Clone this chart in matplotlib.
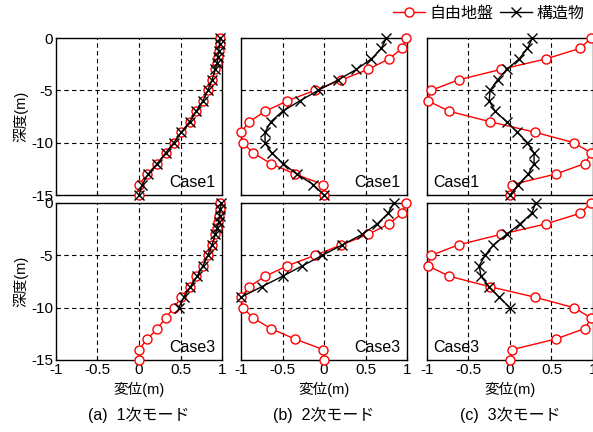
import numpy as np
import matplotlib
matplotlib.use("Agg")
import matplotlib.pyplot as plt
from matplotlib.lines import Line2D

plt.rcParams['font.family'] = ['Liberation Sans', 'Noto Sans CJK JP']
plt.rcParams['axes.unicode_minus'] = False

# depth (m)
depth = [0, -1, -2, -3, -4, -5, -6, -7, -8, -9, -10, -11, -12, -13, -14, -15]
depth_m1 = [0, -0.6, -1.2, -1.8, -2.4, -3, -4, -5, -6, -7, -8, -9, -10, -11, -12, -13, -14, -15]

# 1st mode
m1_free = [0.98, 0.97, 0.96, 0.95, 0.94, 0.92, 0.88, 0.83, 0.77, 0.69, 0.61, 0.51, 0.42, 0.32, 0.22, 0.10, 0.0, 0.0]
m1_str_c1 = [0.98, 0.97, 0.96, 0.95, 0.94, 0.92, 0.88, 0.83, 0.77, 0.69, 0.61, 0.51, 0.42, 0.32, 0.22, 0.11, 0.04, 0.0]
m1_str_c3 = [0.99, 0.98, 0.97, 0.96, 0.94, 0.92, 0.88, 0.83, 0.77, 0.70, 0.62, 0.54, 0.48]

# 2nd mode
m2_free = [0.99, 0.94, 0.78, 0.53, 0.21, -0.11, -0.44, -0.71, -0.90, -1.0, -0.98, -0.85, -0.64, -0.35, -0.01, 0.0]
m2_str_c1 = [0.75, 0.69, 0.57, 0.39, 0.17, -0.07, -0.29, -0.50, -0.64, -0.71, -0.71, -0.63, -0.49, -0.33, -0.13, 0.0]
m2_str_c3 = [0.84, 0.77, 0.64, 0.46, 0.22, -0.02, -0.26, -0.50, -0.75, -1.0]

# 3rd mode
m3_free = [0.98, 0.84, 0.43, -0.11, -0.62, -0.95, -0.99, -0.73, -0.24, 0.30, 0.77, 0.98, 0.90, 0.55, 0.03, 0.0]
m3_str_c1 = [0.27, 0.21, 0.11, -0.04, -0.15, -0.24, -0.25, -0.18, -0.04, 0.09, 0.21, 0.29, 0.29, 0.22, 0.10, 0.0]
m3_str_c3 = [0.31, 0.26, 0.12, -0.04, -0.20, -0.30, -0.37, -0.35, -0.25, -0.13, 0.0]

xticks = [-1, -0.5, 0, 0.5, 1]
xticklabels = ['-1', '-0.5', '0', '0.5', '1']
yticks = [0, -5, -10, -15]
yticklabels = ['0', '-5', '-10', '-15']
captions = ['(a)  1次モード', '(b)  2次モード', '(c)  3次モード']

panels = [
    [(depth_m1, m1_free, depth_m1, m1_str_c1, 'Case1'),
     (depth, m2_free, depth, m2_str_c1, 'Case1'),
     (depth, m3_free, depth, m3_str_c1, 'Case1')],
    [(depth_m1, m1_free, depth_m1[:len(m1_str_c3)], m1_str_c3, 'Case3'),
     (depth, m2_free, depth[:len(m2_str_c3)], m2_str_c3, 'Case3'),
     (depth, m3_free, depth[:len(m3_str_c3)], m3_str_c3, 'Case3')],
]

fig = plt.figure(figsize=(5.93, 4.32), dpi=100)

lefts = [0.0944, 0.4064, 0.720]
bottoms = [0.5486, 0.1667]
w, h = 0.280, 0.3634

for r in range(2):
    for c in range(3):
        dfree, xfree, dstr, xstr, case = panels[r][c]
        ax = fig.add_axes([lefts[c], bottoms[r], w, h])
        for v in [-0.5, 0, 0.5]:
            ax.axvline(v, color='black', ls=(0, (4, 3)), lw=0.8, zorder=1)
        for v in [-5, -10]:
            ax.axhline(v, color='black', ls=(0, (4, 3)), lw=0.8, zorder=1)
        ax.plot(xfree, dfree, color='red', lw=1.0, marker='o', ms=6.5,
                mfc='white', mec='red', mew=1.0, clip_on=False, zorder=3)
        ax.plot(xstr, dstr, color='black', lw=1.0, marker='x', ms=7.5,
                mew=1.0, clip_on=False, zorder=4)
        ax.set_xlim(-1, 1)
        ax.set_ylim(-15, 0)
        ax.set_xticks(xticks)
        ax.set_yticks(yticks)
        ax.tick_params(direction='in', length=3, labelsize=11, pad=2)
        if c == 0:
            ax.set_yticklabels(yticklabels)
            ax.set_ylabel('深度(m)', fontsize=10.5, labelpad=2)
        else:
            ax.set_yticklabels([])
        if r == 1:
            ax.set_xticklabels(xticklabels)
            ax.set_xlabel('変位(m)', fontsize=10.5, labelpad=4)
        else:
            ax.set_xticklabels([])
        for s in ax.spines.values():
            s.set_linewidth(1.0)
        if c == 2:
            ax.text(0.04, 0.03, case, transform=ax.transAxes, fontsize=11.5,
                    ha='left', va='bottom', zorder=5)
        else:
            ax.text(0.96, 0.03, case, transform=ax.transAxes, fontsize=11.5,
                    ha='right', va='bottom', zorder=5)

for c in range(3):
    fig.text(lefts[c] + w / 2, 0.04, captions[c], ha='center', va='center',
             fontsize=11.5)

handles = [
    Line2D([], [], color='red', lw=1.0, marker='o', ms=6.5, mfc='white', mec='red'),
    Line2D([], [], color='black', lw=1.0, marker='x', ms=7.5),
]
fig.legend(handles, ['自由地盤', '構造物'], loc='upper right', bbox_to_anchor=(1.01, 1.02),
           ncol=2, frameon=False, fontsize=11.5, handlelength=2.0,
           handletextpad=0.3, columnspacing=0.4)

fig.savefig('out.png', dpi=100)
